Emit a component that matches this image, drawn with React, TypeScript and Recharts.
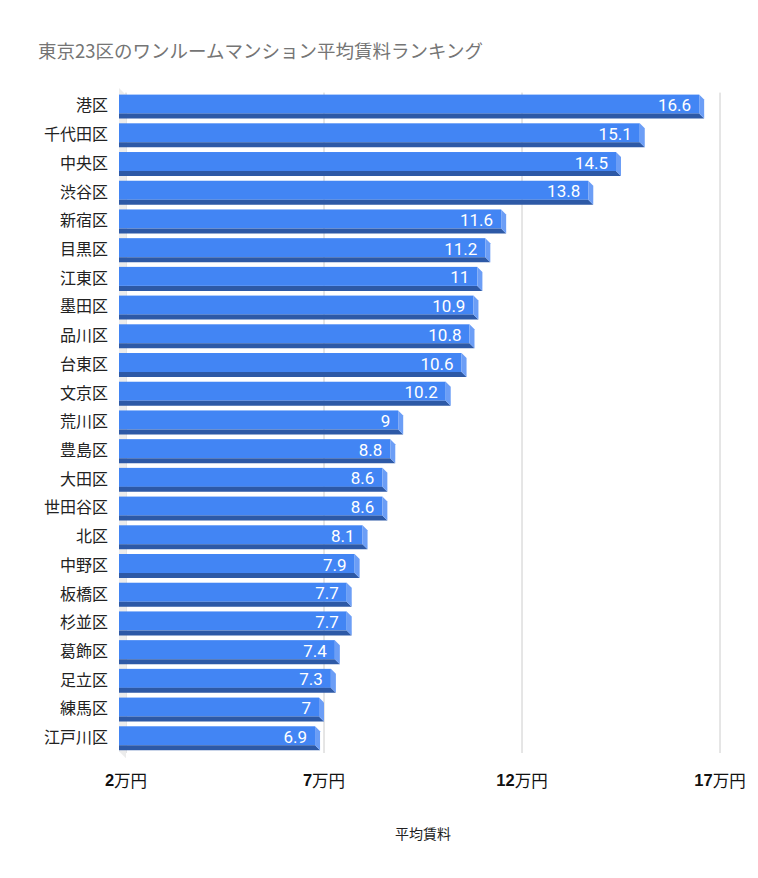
import { BarChart, Bar, XAxis, YAxis, CartesianGrid, LabelList, ReferenceArea } from 'recharts';

const wards = [
  '港区', '千代田区', '中央区', '渋谷区', '新宿区', '目黒区', '江東区', '墨田区',
  '品川区', '台東区', '文京区', '荒川区', '豊島区', '大田区', '世田谷区', '北区',
  '中野区', '板橋区', '杉並区', '葛飾区', '足立区', '練馬区', '江戸川区',
];
const rents = [
  16.6, 15.1, 14.5, 13.8, 11.6, 11.2, 11, 10.9, 10.8, 10.6, 10.2, 9, 8.8, 8.6, 8.6, 8.1,
  7.9, 7.7, 7.7, 7.4, 7.3, 7, 6.9,
];
const xTicks = [2, 7, 12, 17];

const data = wards.map((ward, i) => ({ ward, rent: rents[i] }));

const FRONT = '#4285f4';
const BOTTOM = '#2d59a6';
const SIDE = '#6c9ef6';
const JP = '"Noto Sans CJK JP", "Noto Sans", sans-serif';

// 3D-ish bar: front face shifted left, dark floor strip, lighter bevel on the right
function Bar3D(props: any) {
  const { x, y, width, height } = props;
  if (width == null || width <= 0) return null;
  const d = 5;
  const left = x - 7;
  const end = x + width;
  const faceH = height - d;
  return (
    <g>
      <rect x={left} y={y} width={end - d - left} height={faceH} fill={FRONT} />
      <polygon
        points={`${left},${y + faceH} ${end - d},${y + faceH} ${end},${y + height} ${left},${y + height}`}
        fill={BOTTOM}
      />
      <polygon
        points={`${end - d},${y} ${end},${y + d} ${end},${y + height} ${end - d},${y + faceH}`}
        fill={SIDE}
      />
    </g>
  );
}

function Wall(props: any) {
  const { x, y, height } = props;
  return (
    <polygon
      points={`${x - 7},${y - 4.6} ${x},${y + 2.4} ${x},${y + height + 5.3} ${x - 7},${y + height - 1.7}`}
      fill="#ececec"
    />
  );
}

function ValueLabel(props: any) {
  const { x, y, width, height, value } = props;
  return (
    <text
      x={x + width - 13}
      y={y + (height - 5) / 2 + 1}
      textAnchor="end"
      dominantBaseline="central"
      fill="#ffffff"
      fontFamily="Roboto, sans-serif"
      fontSize={17}
    >
      {value}
    </text>
  );
}

function WardTick(props: any) {
  const { x, y, payload } = props;
  return (
    <text x={x} y={y - 2.5} textAnchor="end" dominantBaseline="central" fill="#222" fontFamily={JP} fontSize={16}>
      {payload.value}
    </text>
  );
}

function YenTick(props: any) {
  const { x, y, payload } = props;
  return (
    <text x={x} y={y + 19} textAnchor="middle" dominantBaseline="central" fill="#111" fontFamily={JP} fontSize={16.5}>
      <tspan fontWeight="bold" fontFamily="Arial, 'Liberation Sans', sans-serif">{payload.value}</tspan>
      <tspan>万円</tspan>
    </text>
  );
}

export default function App() {
  return (
    <div style={{ position: 'absolute', left: 0, top: 0, width: 758, height: 878, background: '#fff' }}>
      <div
        style={{
          position: 'absolute',
          left: 38,
          top: 37,
          fontFamily: JP,
          fontSize: 18.5,
          color: '#757575',
          whiteSpace: 'nowrap',
        }}
      >
        東京23区のワンルームマンション平均賃料ランキング
      </div>
      <BarChart
        width={758}
        height={878}
        data={data}
        layout="vertical"
        margin={{ top: 92.6, right: 38, bottom: 35, left: 0 }}
      >
        <CartesianGrid horizontal={false} stroke="#cccccc" verticalValues={xTicks} />
        <ReferenceArea x1={2} x2={17} shape={<Wall />} fill="none" />
        <XAxis
          type="number"
          domain={[2, 17]}
          ticks={xTicks}
          axisLine={false}
          tickLine={false}
          tick={<YenTick />}
          height={90}
          label={{
            value: '平均賃料',
            position: 'insideBottom',
            offset: 4,
            fill: '#222',
            fontFamily: JP,
            fontSize: 14,
          }}
        />
        <YAxis
          type="category"
          dataKey="ward"
          width={126}
          axisLine={false}
          tickLine={false}
          tickSize={0}
          tickMargin={18}
          tick={<WardTick />}
          interval={0}
        />
        <Bar dataKey="rent" barSize={24} shape={<Bar3D />} isAnimationActive={false}>
          <LabelList dataKey="rent" content={<ValueLabel />} />
        </Bar>
      </BarChart>
    </div>
  );
}
